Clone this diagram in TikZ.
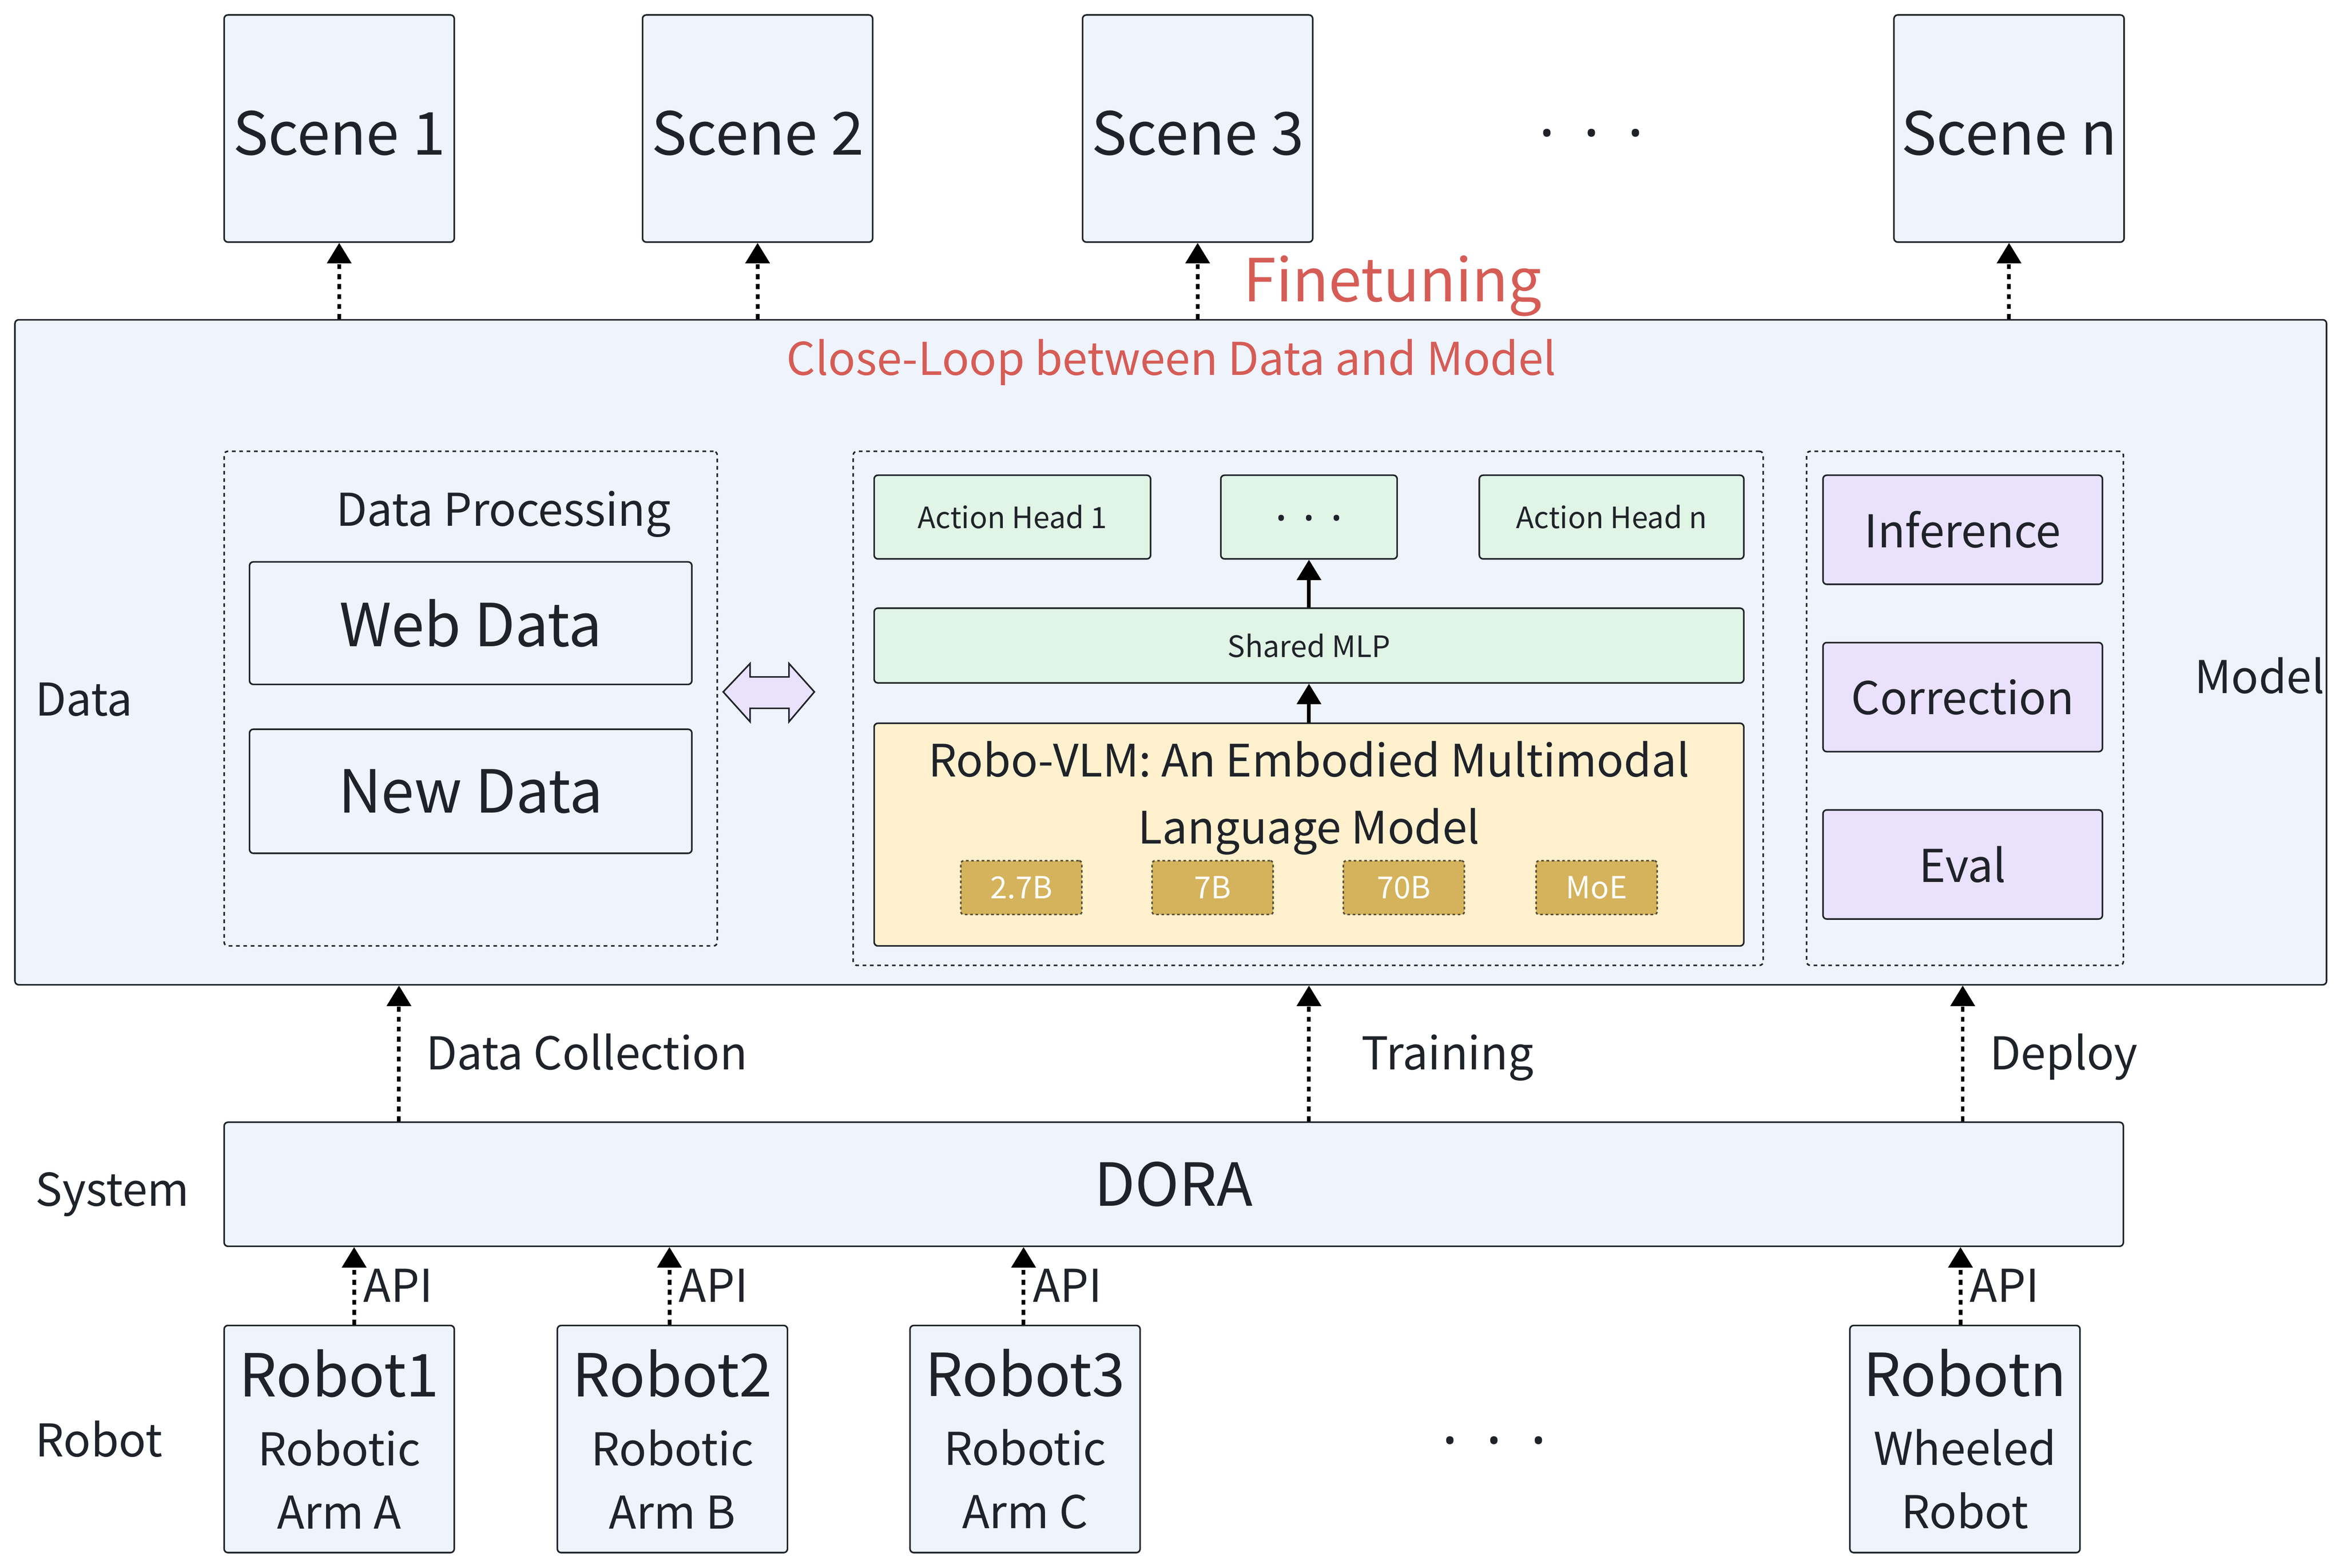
\documentclass[tikz,border=0pt]{standalone}
\usepackage{fontspec}
\setmainfont{Noto Sans CJK SC}
\newfontfamily\dotfont{Noto Sans}
\usepackage{xcolor}
\usepackage{tikz}
\usetikzlibrary{positioning}
\usetikzlibrary{arrows.meta}

\definecolor{inkc}{HTML}{1F2329}
\definecolor{blueb}{HTML}{EFF3FC}
\definecolor{greenb}{HTML}{E0F5E6}
\definecolor{yellowb}{HTML}{FFF1CE}
\definecolor{goldb}{HTML}{D4B35C}
\definecolor{purpleb}{HTML}{EAE2FD}
\definecolor{redt}{HTML}{D65C56}

\newcommand{\bigtxt}{\fontsize{11.3}{13.6}\selectfont}
\newcommand{\midtxt}{\fontsize{8.6}{12}\selectfont}
\newcommand{\smalltxt}{\fontsize{5.6}{6.8}\selectfont}
\newcommand{\threedots}[1]{\raisebox{-0.38em}[0pt][0pt]{\dotfont\bfseries ·\hspace{#1}·\hspace{#1}·}}

\tikzset{
	blk/.style={draw=inkc, line width=0.3pt, fill=blueb, rounded corners=0.25mm, inner sep=0pt, text=inkc},
	grp/.style={draw=inkc, line width=0.3pt, dash pattern=on 0.7pt off 0.7pt, rounded corners=0.25mm, inner sep=0pt},
	chip/.style={draw=inkc!70!goldb, line width=0.3pt, dash pattern=on 0.5pt off 0.5pt, fill=goldb, text=white, minimum width=8.1mm, minimum height=3.6mm, inner sep=0pt, font=\fontsize{5.8}{7}\selectfont, rounded corners=0.2mm},
	lbl/.style={text=inkc, font=\midtxt, inner sep=0pt, text height=0.7em, text depth=0.25em, yshift=-0.3mm},
	dasharr/.style={-{Triangle[length=1.37mm,width=1.6mm]}, line width=0.7pt, dash pattern=on 0.95pt off 0.95pt},
	solarr/.style={-{Triangle[length=1.37mm,width=1.6mm]}, line width=0.7pt},
}

\begin{document}
\begin{tikzpicture}[x=0.1mm,y=-0.1mm]
	\useasboundingbox (0,0) rectangle (1568,1049);
	% scenes
	\foreach \nm/\xx/\tx in {scene1/227/Scene 1, scene2/507/Scene 2, scene3/801.5/Scene 3, scenen/1344.5/Scene n}
		\node[blk, minimum width=15.4mm, minimum height=15.2mm, font=\bigtxt] (\nm) at (\xx,86) {\raisebox{-0.3mm}[\height][\depth]{\tx}};
	\node[inner sep=0pt, text=inkc, font=\bigtxt] (scdots) at (1065,88) {\threedots{1.9mm}};
	% close loop
	\node[blk, minimum width=154.7mm, minimum height=44.5mm] (loop) at (783.5,436.5) {};
	\node[lbl, font=\bigtxt, text=redt] (finet) at (932,191) {Finetuning};
	\node[lbl, text=redt] (cltitle) at (784,240) {Close-Loop between Data and Model};
	\node[lbl, anchor=west] (datalbl) at (23,468) {Data};
	\node[lbl, anchor=west] (modellbl) at (1468,453) {Model};
	% data side
	\node[grp, minimum width=33mm, minimum height=33.1mm] (proc) at (315,467.5) {};
	\node[lbl] (proctitle) at (337,341) {Data Processing};
	\node[blk, minimum width=29.6mm, minimum height=8.2mm, font=\bigtxt] (web) at (315,417) {Web Data};
	\node[blk, minimum width=29.6mm, minimum height=8.3mm, font=\bigtxt] (new) at (315,529.5) {New Data};
	\filldraw[fill=purpleb, draw=inkc, line width=0.3pt] (484,463) -- (502,444) -- (502,453) -- (528,453) -- (528,444) -- (545,463) -- (528,483) -- (528,474) -- (502,474) -- (502,483) -- cycle;
	% model
	\node[grp, minimum width=60.9mm, minimum height=34.4mm] (modgrp) at (875.5,474) {};
	\node[blk, fill=greenb, minimum width=18.5mm, minimum height=5.6mm, font=\smalltxt] (ah1) at (677.5,346) {Action Head 1};
	\node[blk, fill=greenb, minimum width=11.8mm, minimum height=5.6mm, font=\midtxt] (ahdots) at (876,346) {\threedots{1.05mm}};
	\node[blk, fill=greenb, minimum width=17.7mm, minimum height=5.6mm, font=\smalltxt] (ahn) at (1078.5,346) {Action Head n};
	\node[blk, fill=greenb, minimum width=58.2mm, minimum height=5mm, font=\smalltxt] (mlp) at (876,432) {Shared MLP};
	\node[blk, fill=yellowb, minimum width=58.2mm, minimum height=14.9mm] (vlm) at (876,558.5) {};
	\node[lbl, align=center, font=\fontsize{8.5}{12.8}\selectfont, text height=, text depth=, yshift=0.3mm] (vlmtitle) at (876,534) {Robo-VLM: An Embodied Multimodal\\Language Model};
	\node[chip] (c1) at (683.5,594) {2.7B};
	\node[chip] (c2) at (811.5,594) {7B};
	\node[chip] (c3) at (939.5,594) {70B};
	\node[chip] (c4) at (1068.5,594) {MoE};
	\draw[solarr] (mlp.north) -- (ahdots.south);
	\draw[solarr] (vlm.north) -- (mlp.south);
	% tools
	\node[grp, minimum width=21.2mm, minimum height=34.4mm] (toolgrp) at (1315,474) {};
	\node[blk, fill=purpleb, minimum width=18.7mm, minimum height=7.3mm, font=\midtxt] (inf) at (1313.5,354.5) {Inference};
	\node[blk, fill=purpleb, minimum width=18.7mm, minimum height=7.3mm, font=\midtxt] (corr) at (1313.5,466.5) {Correction};
	\node[blk, fill=purpleb, minimum width=18.7mm, minimum height=7.3mm, font=\midtxt] (eval) at (1313.5,578.5) {Eval};
	\foreach \nm in {scene1,scene2,scene3,scenen}
		\draw[dasharr] (\nm.south |- loop.north) -- (\nm.south);
	% system
	\node[blk, minimum width=127.1mm, minimum height=8.3mm, font=\bigtxt] (dora) at (785.5,792.5) {DORA};
	\node[lbl, anchor=west] (syslbl) at (23,796) {System};
	\coordinate (dc) at (267,0);
	\draw[dasharr] (dc |- dora.north) -- (dc |- loop.south) node[midway, right=1.7mm, lbl] (collbl) {Data Collection};
	\draw[dasharr] (vlm |- dora.north) -- (vlm |- loop.south) node[midway, right=3.4mm, lbl] (trainlbl) {Training};
	\draw[dasharr] (inf |- dora.north) -- (inf |- loop.south) node[midway, right=1.7mm, lbl] (deplbl) {Deploy};
	% robots
	\node[lbl, anchor=west] (roblbl) at (23,964) {Robot};
	\foreach \nm/\xx/\ta/\tb/\tc in {robot1/227/Robot1/Robotic/Arm A, robot2/450/Robot2/Robotic/Arm B, robot3/686/Robot3/Robotic/Arm C, robotn/1315/Robotn/Wheeled/Robot}
		\node[blk, minimum width=15.4mm, minimum height=15.2mm, align=center, font=\midtxt] (\nm) at (\xx,963) {{\bigtxt \ta}\\[0.4mm] \tb\\ \tc};
	\node[inner sep=0pt, text=inkc, font=\bigtxt] (robdots) at (1000,963) {\threedots{1.9mm}};
	\foreach \nm/\dx in {robot1/1, robot2/-0.2, robot3/-0.1, robotn/-0.3}
		\draw[dasharr] ([xshift=\dx mm]\nm.north) -- ([xshift=\dx mm]\nm.north |- dora.south) node[midway, right=0.5mm, lbl] {API};
\end{tikzpicture}
\end{document}
